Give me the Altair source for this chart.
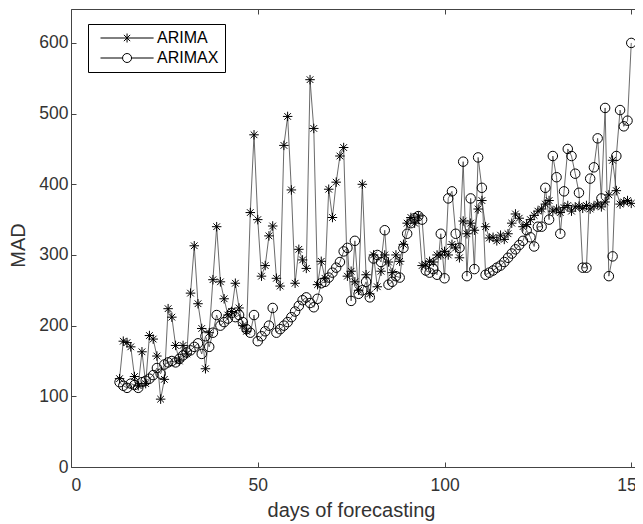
import altair as alt
import pandas as pd

# ---------------- data ----------------
days = list(range(13, 151))

arima = [
    125, 178, 176, 170, 128, 115, 163, 118, 186, 181,
    157, 96, 124, 224, 212, 172, 150, 172, 160, 246,
    313, 231, 196, 139, 190, 265, 340, 262, 238, 215,
    220, 260, 225, 200, 192, 360, 470, 350, 270, 285,
    327, 341, 267, 256, 455, 496, 392, 260, 308, 293,
    281, 548, 479, 258, 291, 267, 393, 353, 403, 440,
    452, 270, 277, 262, 250, 400, 272, 245, 300, 255,
    277, 300, 290, 275, 300, 291, 315, 345, 353, 345,
    355, 285, 286, 291, 290, 300, 300, 305, 300, 315,
    310, 296, 348, 330, 345, 335, 365, 377, 340, 324,
    325, 320, 328, 322, 330, 345, 358, 352, 340, 343,
    350, 356, 362, 365, 372, 377, 362, 365, 360, 367,
    370, 362, 368, 369, 366, 370, 365, 369, 372, 368,
    375, 385, 434, 391, 372, 375, 377, 373,
]

arimax = [
    120, 115, 112, 118, 116, 112, 120, 122, 125, 130,
    140, 132, 145, 148, 150, 148, 153, 158, 162, 165,
    170, 175, 160, 185, 170, 190, 215, 200, 205, 210,
    218, 212, 215, 205, 195, 190, 215, 178, 185, 192,
    200, 225, 190, 195, 200, 205, 212, 220, 228, 236,
    240, 232, 226, 238, 260, 262, 268, 275, 282, 290,
    305, 310, 235, 320, 245, 250, 262, 240, 295, 300,
    290, 335, 258, 262, 270, 268, 310, 330, 345, 352,
    355, 350, 278, 275, 280, 272, 330, 267, 380, 390,
    330, 310, 432, 270, 380, 280, 438, 395, 272, 275,
    278, 282, 285, 290, 296, 302, 308, 314, 320, 335,
    325, 312, 340, 340, 395, 350, 440, 410, 330, 390,
    450, 440, 415, 388, 282, 282, 408, 424, 465, 380,
    508, 270, 298, 440, 505, 482, 490, 600,
]

series_names = ["ARIMA", "ARIMAX"]
x_ticks = [0, 50, 100, 150]
y_ticks = [0, 100, 200, 300, 400, 500, 600]

df = pd.DataFrame({
    "day": days * 2,
    "MAD": arima + arimax,
    "series": [series_names[0]] * len(days) + [series_names[1]] * len(days),
})

# ---------------- styling ----------------
FONT = "Liberation Sans"
TXT = "#333333"
AX = "#444444"

STAR = "M-1,0L1,0M0,-1L0,1M-0.7,-0.7L0.7,0.7M-0.7,0.7L0.7,-0.7"
LEG_STAR = "M-1,0L10.8,0M4.9,-1L4.9,1M4.2,-0.7L5.6,0.7M4.2,0.7L5.6,-0.7"
LEG_CIRC = "M-1,0L3.9,0M5.9,0L10.8,0M3.9,0A1,1 0 1,1 5.9,0A1,1 0 1,1 3.9,0"

W, H = 564, 458
x_scale = alt.Scale(domain=[0, 151], nice=False, zero=False)
y_scale = alt.Scale(domain=[0, 648], nice=False, zero=False)

x_axis = alt.Axis(
    values=x_ticks, title="days of forecasting", grid=False,
    tickSize=alt.ExprRef(expr="-5"), labelPadding=14,
    labelFont=FONT, labelFontSize=17.5, labelColor=TXT,
    titleFont=FONT, titleFontSize=20, titleFontWeight="normal", titleColor=TXT,
    titleX=280, titleY=43, titleBaseline="middle",
    domainColor=AX, tickColor=AX,
)
y_axis = alt.Axis(
    values=y_ticks, title="MAD", grid=False,
    tickSize=alt.ExprRef(expr="-5"), labelPadding=8,
    labelFont=FONT, labelFontSize=17.5, labelColor=TXT,
    titleFont=FONT, titleFontSize=20, titleFontWeight="normal", titleColor=TXT,
    titleX=-53, titleY=236, titleBaseline="middle", titleAngle=-90,
    domainColor=AX, tickColor=AX,
)
top_axis = alt.Axis(
    orient="top", values=x_ticks, title=None, labels=False, grid=False,
    tickSize=alt.ExprRef(expr="-5"), domainColor=AX, tickColor=AX,
)

base = alt.Chart(df)

lines = base.mark_line(color="#444444", strokeWidth=0.8).encode(
    x=alt.X("day:Q", scale=x_scale, axis=x_axis),
    y=alt.Y("MAD:Q", scale=y_scale, axis=y_axis),
    detail="series:N",
)

points = base.mark_point(filled=False, color="black", strokeWidth=1, size=90, opacity=1).encode(
    x=alt.X("day:Q", scale=x_scale, axis=None),
    y=alt.Y("MAD:Q", scale=y_scale),
    shape=alt.Shape("series:N", scale=alt.Scale(domain=series_names, range=[STAR, "circle"]), legend=None),
)

legend_layer = base.mark_point(filled=False, color="black", strokeWidth=1, size=81, opacity=0).encode(
    x=alt.X("day:Q", scale=x_scale, axis=None),
    y=alt.Y("MAD:Q", scale=y_scale),
    shape=alt.Shape(
        "series:N",
        scale=alt.Scale(domain=series_names, range=[LEG_STAR, LEG_CIRC]),
        legend=alt.Legend(
            title=None, orient="none", legendX=17, legendY=15,
            strokeColor="black", fillColor="white", padding=6,
            symbolOffset=3,
            labelFont=FONT, labelFontSize=16, labelColor="black", labelOffset=44,
            symbolSize=81, symbolStrokeWidth=1, symbolStrokeColor="black",
            symbolOpacity=1, symbolFillColor="transparent", rowPadding=4,
        ),
    ),
)

top_layer = base.mark_point(opacity=0).encode(
    x=alt.X("day:Q", scale=x_scale, axis=top_axis),
)

chart = (
    alt.layer(lines, points, legend_layer, top_layer)
    .resolve_scale(shape="independent")
    .resolve_axis(x="independent")
    .properties(
        width=W, height=H,
        autosize=alt.AutoSizeParams(type="none"),
        padding={"left": 63, "top": 1, "right": 0, "bottom": 55},
    )
    .configure_view(stroke="transparent", strokeWidth=0)
    .configure(background="white")
)

chart.save("out.html", embed_options={"renderer": "svg", "actions": False})
